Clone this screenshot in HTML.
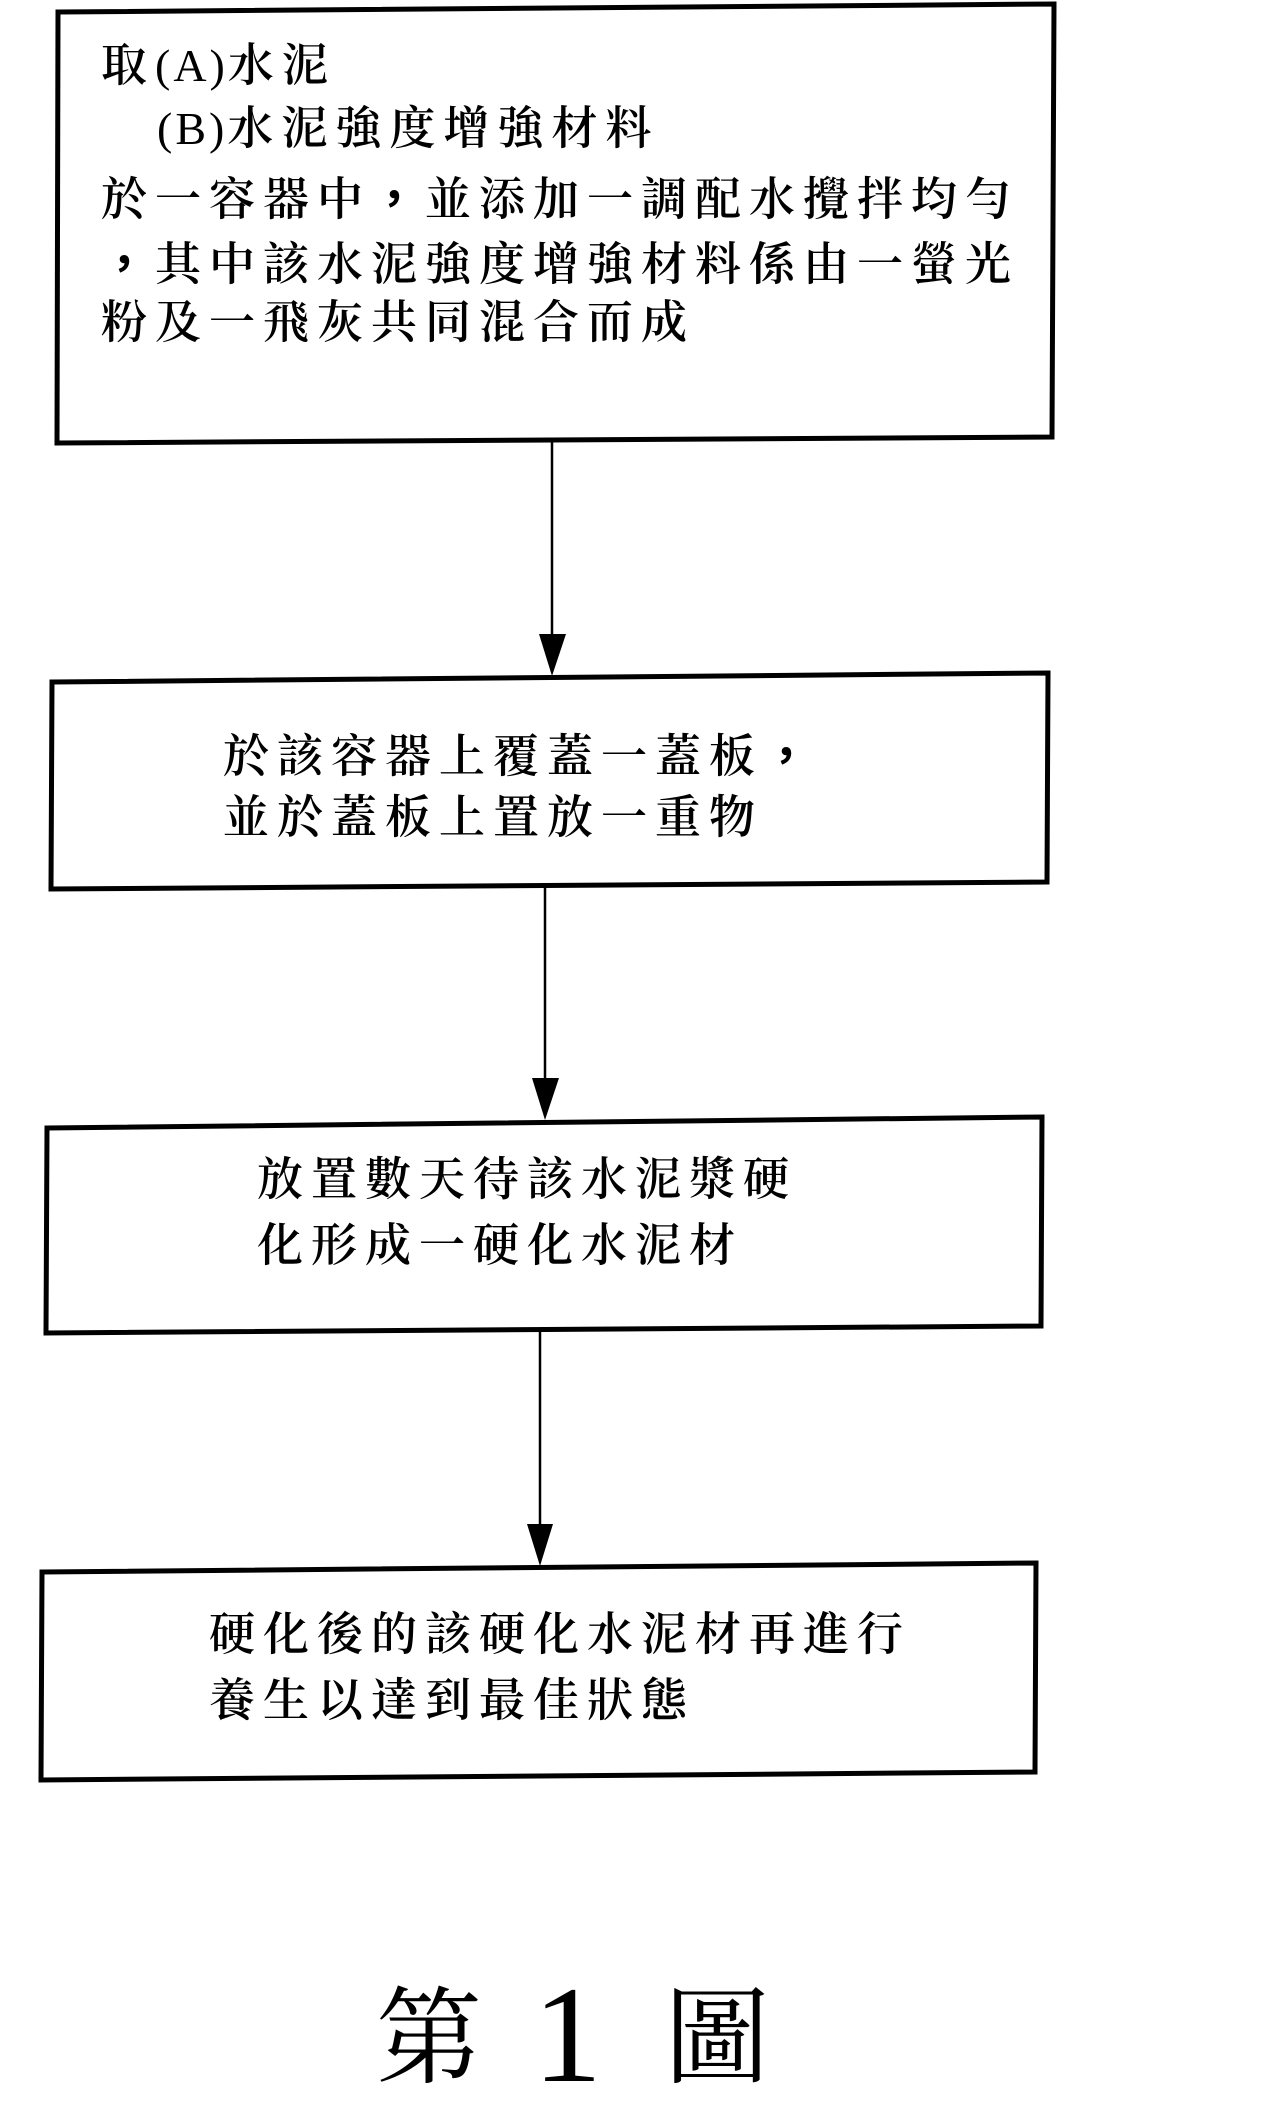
<!DOCTYPE html>
<html>
<head>
<meta charset="utf-8">
<style>
  html, body { margin:0; padding:0; background:#fff; }
  body { width:1277px; height:2086px; position:relative; overflow:hidden; }
  svg { position:absolute; left:0; top:0; }
  .t { position:absolute; white-space:nowrap; font-family:"Liberation Serif","Noto Serif CJK SC","Noto Sans CJK TC",serif;
       font-size:46px; line-height:46px; letter-spacing:8px; color:#000; font-weight:600; }
  .lat { font-family:"Liberation Serif",serif; letter-spacing:3px; font-weight:400; }
  .cm { font-family:"Noto Sans CJK TC","Noto Serif CJK SC",sans-serif; font-weight:700; }
  .big { position:absolute; white-space:nowrap; font-family:"Noto Serif CJK SC","Noto Sans CJK TC",serif; font-size:106px; line-height:106px; color:#000; }
  .num { position:absolute; white-space:nowrap; font-family:"Liberation Serif",serif; font-size:138px; line-height:138px; color:#000; }
</style>
</head>
<body>
<svg width="1277" height="2086" viewBox="0 0 1277 2086" xmlns="http://www.w3.org/2000/svg">
  <g fill="none" stroke="#000" stroke-width="5" stroke-linejoin="miter">
    <polygon points="58,12 1054,4 1052,437 57,443"/>
    <polygon points="52,682 1048,673 1047,882 51,889"/>
    <polygon points="47,1128 1042,1117 1041,1326 46,1333"/>
    <polygon points="42,1572 1036,1563 1035,1772 41,1780"/>
  </g>
  <g stroke="#000" stroke-width="2.5">
    <line x1="552" y1="440" x2="552" y2="640"/>
    <line x1="545" y1="886" x2="545" y2="1082"/>
    <line x1="540" y1="1329" x2="540" y2="1528"/>
  </g>
  <g fill="#000">
    <polygon points="539,634 566,634 552,676"/>
    <polygon points="532,1078 559,1078 545,1120"/>
    <polygon points="527,1524 553,1524 540,1566"/>
  </g>
</svg>

<div class="t" style="left:101px; top:43px;">取<span class="lat">(A)</span>水泥</div>
<div class="t" style="left:157px; top:106px;"><span class="lat">(B)</span>水泥強度增強材料</div>
<div class="t" style="left:101px; top:173px;">於一容器中<span class="cm">，</span>並添加一調配水攪拌均勻</div>
<div class="t" style="left:101px; top:238px;"><span class="cm">，</span>其中該水泥強度增強材料係由一螢光</div>
<div class="t" style="left:101px; top:300px;">粉及一飛灰共同混合而成</div>

<div class="t" style="left:223px; top:730px;">於該容器上覆蓋一蓋板<span class="cm">，</span></div>
<div class="t" style="left:223px; top:795px;">並於蓋板上置放一重物</div>

<div class="t" style="left:257px; top:1157px;">放置數天待該水泥漿硬</div>
<div class="t" style="left:257px; top:1223px;">化形成一硬化水泥材</div>

<div class="t" style="left:209px; top:1612px;">硬化後的該硬化水泥材再進行</div>
<div class="t" style="left:209px; top:1678px;">養生以達到最佳狀態</div>

<div class="big" style="left:376px; top:1977px;">第</div>
<div class="num" style="left:533px; top:1966px;">1</div>
<div class="big" style="left:664px; top:1977px;">圖</div>
</body>
</html>
